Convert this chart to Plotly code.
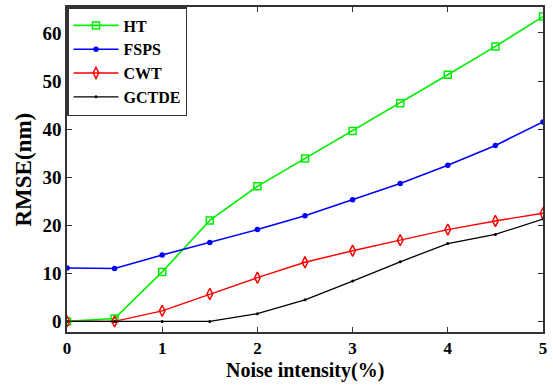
import plotly.graph_objects as go

noise = [0, 0.5, 1, 1.5, 2, 2.5, 3, 3.5, 4, 4.5, 5]
ht = [0, 0.6, 10.3, 21.0, 28.1, 33.9, 39.6, 45.4, 51.3, 57.2, 63.4]
fsps = [11.1, 11.0, 13.8, 16.4, 19.1, 22.0, 25.3, 28.7, 32.5, 36.6, 41.5]
cwt = [0, 0, 2.2, 5.7, 9.1, 12.3, 14.7, 16.9, 19.1, 20.9, 22.5]
gctde = [0, 0, 0, 0, 1.6, 4.5, 8.4, 12.4, 16.2, 18.1, 21.3]
x_ticks = [0, 1, 2, 3, 4, 5]
y_ticks = [0, 10, 20, 30, 40, 50, 60]

font_family = "Liberation Serif"

fig = go.Figure()
fig.add_trace(go.Scatter(x=noise, y=ht, name="<b>HT</b>", mode="lines+markers",
                         line=dict(color="#00ee00", width=1.6),
                         marker=dict(symbol="square-open", size=7, color="#00ee00", line=dict(width=1.5))))
fig.add_trace(go.Scatter(x=noise, y=fsps, name="<b>FSPS</b>", mode="lines+markers",
                         line=dict(color="#0000ff", width=1.6),
                         marker=dict(symbol="circle", size=5.5, color="#0000ff")))
fig.add_trace(go.Scatter(x=noise, y=cwt, name="<b>CWT</b>", mode="lines+markers",
                         line=dict(color="#ff0000", width=1.4),
                         marker=dict(symbol="diamond-tall-open", size=8, color="#ff0000", line=dict(width=1.5))))
fig.add_trace(go.Scatter(x=noise, y=gctde, name="<b>GCTDE</b>", mode="lines+markers",
                         line=dict(color="#000000", width=1.3),
                         marker=dict(symbol="circle", size=3, color="#000000")))

fig.update_layout(
    width=553, height=385,
    margin=dict(l=67, r=10, t=7, b=53),
    paper_bgcolor="white", plot_bgcolor="white",
    font=dict(family=font_family, size=19, color="black"),
    showlegend=True,
    legend=dict(x=0, y=1, xanchor="left", yanchor="top",
                bgcolor="white", bordercolor="#333333", borderwidth=1.5,
                font=dict(family=font_family, size=16, color="black"),
                tracegroupgap=0, itemwidth=45),
    xaxis=dict(range=[0, 5], tickvals=x_ticks,
               ticktext=[f"<b>{v}</b>" for v in x_ticks],
               ticks="inside", ticklen=5, tickcolor="#333333", mirror="ticks", automargin=False,
               tickfont=dict(size=17),
               showline=True, linecolor="#333333", linewidth=1.5, showgrid=False, zeroline=False),
    yaxis=dict(range=[-2.2, 65.4], tickvals=y_ticks,
               ticktext=[f"<b>{v}</b>" for v in y_ticks],
               ticks="inside", ticklen=5, tickcolor="#333333", mirror="ticks", automargin=False,
               showline=True, linecolor="#333333", linewidth=1.5, showgrid=False, zeroline=False),
    annotations=[
        dict(text="<b>Noise intensity(%)</b>", xref="paper", yref="paper", x=0.5, y=0,
             xanchor="center", yanchor="bottom", yshift=-52, showarrow=False,
             font=dict(family=font_family, size=20, color="black")),
        dict(text="<b>RMSE(nm)</b>", xref="paper", yref="paper", x=0, y=0.5,
             xanchor="center", yanchor="middle", xshift=-44, textangle=-90, showarrow=False,
             font=dict(family=font_family, size=23, color="black")),
    ],
)

fig.write_html("out.html")
